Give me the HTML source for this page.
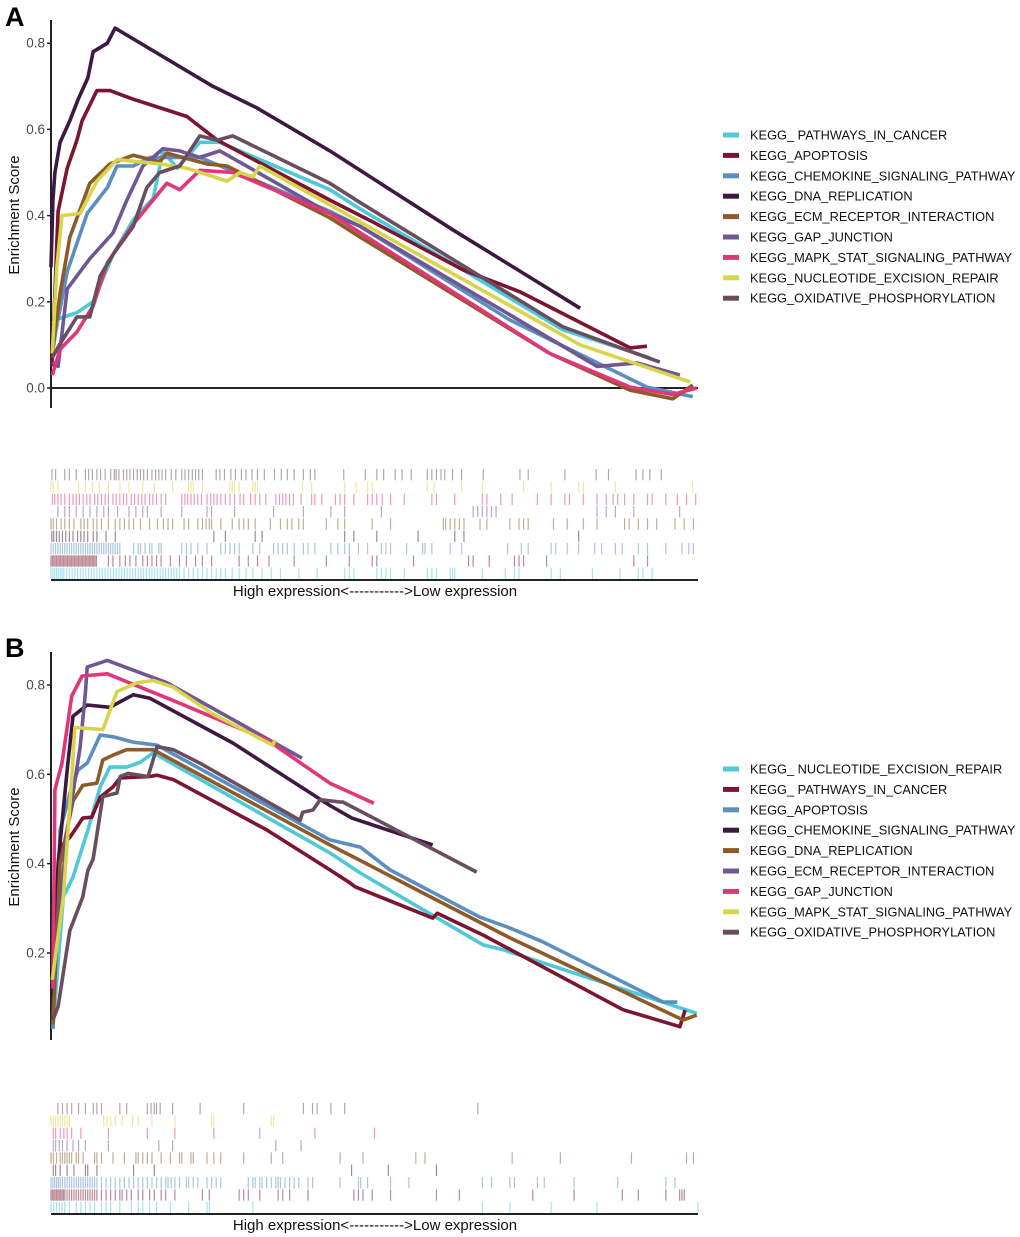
<!DOCTYPE html>
<html><head><meta charset="utf-8">
<style>
html,body{margin:0;padding:0;background:#fff;}
svg{display:block;font-family:"Liberation Sans",Arial,sans-serif;}
</style></head>
<body>
<svg id="fig" width="1020" height="1237" viewBox="0 0 1020 1237"></svg>
<script>
// ---------- data ----------
const namesA = ["KEGG_ PATHWAYS_IN_CANCER","KEGG_APOPTOSIS","KEGG_CHEMOKINE_SIGNALING_PATHWAY","KEGG_DNA_REPLICATION","KEGG_ECM_RECEPTOR_INTERACTION","KEGG_GAP_JUNCTION","KEGG_MAPK_STAT_SIGNALING_PATHWAY","KEGG_NUCLEOTIDE_EXCISION_REPAIR","KEGG_OXIDATIVE_PHOSPHORYLATION"];
const namesB = ["KEGG_ NUCLEOTIDE_EXCISION_REPAIR","KEGG_ PATHWAYS_IN_CANCER","KEGG_APOPTOSIS","KEGG_CHEMOKINE_SIGNALING_PATHWAY","KEGG_DNA_REPLICATION","KEGG_ECM_RECEPTOR_INTERACTION","KEGG_GAP_JUNCTION","KEGG_MAPK_STAT_SIGNALING_PATHWAY","KEGG_OXIDATIVE_PHOSPHORYLATION"];
const palette = ["#4FC8D8","#7B1530","#5A8FC0","#3D1840","#8F5A2A","#6E5792","#E0367A","#D8D44C","#6A4E60"];
const ticksA = [0.0,0.2,0.4,0.6,0.8];
const ticksB = [0.2,0.4,0.6,0.8];
const N_GENES = 1410;

// Panel A curves: rank (% of list) and enrichment score
const A_rank = [
 [0.2,1.1,4.0,6.5,9.6,12.7,15.8,17.3,19.5,23.0,26.1,43.1,47.8,63.7,79.1,92.6],
 [0.15,1.1,2.5,4.0,4.8,7.1,9.1,12.7,17.9,21.0,25.7,43.1,49.8,63.7,72.5,89.5,92.1],
 [0.2,1.1,2.5,5.6,8.7,10.2,12.7,15.3,23.0,43.1,47.8,70.9,92.1,99.2],
 [0.0,0.3,0.6,1.4,2.9,4.2,5.7,6.5,8.7,9.9,25.0,31.8,43.1,62.1,81.8],
 [0.2,1.4,2.9,6.0,9.1,12.7,16.8,17.9,24.1,27.2,43.1,47.8,77.1,89.5,96.1,99.2],
 [0.2,1.1,2.5,6.0,9.6,11.7,14.2,17.3,19.9,23.0,26.1,43.1,47.8,84.4,90.6,97.2],
 [0.2,1.4,4.0,6.5,8.7,12.7,17.9,19.9,23.0,28.1,43.1,47.8,77.1,89.5,96.1,99.8],
 [0.2,0.9,1.7,4.5,7.1,10.2,16.8,21.0,27.2,29.2,31.2,32.3,43.1,47.8,81.8,98.8],
 [0.2,1.1,4.0,6.0,7.6,9.6,12.7,14.8,16.8,19.9,23.0,25.7,28.1,43.1,47.8,79.1,94.1]
];
const A_es = [
 [0.08,0.16,0.175,0.20,0.31,0.39,0.44,0.55,0.51,0.57,0.57,0.46,0.415,0.274,0.135,0.07],
 [0.05,0.41,0.51,0.575,0.62,0.69,0.69,0.67,0.645,0.63,0.575,0.436,0.385,0.274,0.223,0.093,0.097],
 [0.15,0.16,0.27,0.405,0.465,0.515,0.515,0.535,0.535,0.41,0.375,0.158,0.002,-0.02],
 [0.28,0.435,0.50,0.57,0.62,0.67,0.72,0.78,0.80,0.835,0.70,0.65,0.55,0.367,0.185],
 [0.08,0.22,0.35,0.475,0.52,0.54,0.525,0.545,0.52,0.515,0.395,0.35,0.08,-0.005,-0.025,0.007],
 [0.06,0.05,0.23,0.30,0.36,0.435,0.515,0.555,0.55,0.535,0.55,0.405,0.375,0.05,0.058,0.03],
 [0.03,0.09,0.13,0.19,0.29,0.38,0.475,0.46,0.505,0.50,0.405,0.36,0.08,0.002,-0.015,0.0],
 [0.08,0.28,0.40,0.405,0.48,0.53,0.52,0.51,0.48,0.50,0.49,0.515,0.425,0.385,0.10,0.014],
 [0.07,0.095,0.165,0.165,0.26,0.31,0.375,0.465,0.50,0.515,0.585,0.575,0.585,0.475,0.43,0.142,0.06]
];
// Panel B curves
const B_rank = [
 [0.3,1.9,3.4,5.7,7.6,9.1,11.7,13.8,15.8,43.1,47.8,66.8,69.9,99.8],
 [0.3,1.4,2.9,4.0,4.9,6.3,7.6,9.6,10.7,15.3,16.4,18.9,33.4,43.1,46.2,47.0,59.0,59.7,66.8,88.4,97.2,98.0],
 [0.3,1.4,3.2,4.2,5.6,7.6,9.6,12.7,16.4,43.1,47.8,52.4,66.3,70.9,76.0,94.6,96.8],
 [0.3,1.1,2.5,3.4,5.6,9.1,12.7,15.3,28.1,43.1,46.5,59.0],
 [0.3,1.4,3.4,4.9,7.1,8.0,9.6,11.7,15.8,43.1,47.8,56.6,70.9,97.7,99.8],
 [0.3,1.1,2.5,4.5,5.3,5.6,8.7,17.9,38.8],
 [0.3,0.6,1.7,3.2,4.8,8.7,18.9,33.4,43.1,49.9],
 [0.2,1.9,3.2,3.7,8.0,10.2,13.3,15.8,18.9,25.0,34.3,34.6],
 [0.3,1.1,2.9,4.9,5.7,6.5,8.0,10.2,10.7,11.9,15.0,16.4,18.9,23.0,38.5,38.9,40.5,41.6,44.7,45.1,65.8]
];
const B_es = [
 [0.03,0.325,0.37,0.475,0.572,0.616,0.616,0.627,0.648,0.424,0.379,0.218,0.207,0.065],
 [0.06,0.437,0.459,0.482,0.502,0.504,0.549,0.572,0.592,0.595,0.598,0.588,0.475,0.386,0.357,0.348,0.278,0.289,0.24,0.073,0.035,0.072],
 [0.03,0.475,0.572,0.61,0.625,0.688,0.684,0.672,0.665,0.453,0.437,0.386,0.28,0.256,0.225,0.09,0.09],
 [0.10,0.40,0.61,0.73,0.755,0.75,0.778,0.77,0.67,0.53,0.502,0.442],
 [0.04,0.40,0.54,0.575,0.58,0.632,0.643,0.655,0.655,0.442,0.407,0.341,0.234,0.05,0.061],
 [0.13,0.25,0.475,0.66,0.78,0.84,0.855,0.805,0.636],
 [0.12,0.565,0.625,0.775,0.82,0.825,0.765,0.677,0.58,0.535],
 [0.14,0.325,0.59,0.705,0.70,0.785,0.805,0.81,0.795,0.735,0.665,0.677],
 [0.05,0.08,0.25,0.325,0.385,0.41,0.55,0.558,0.595,0.602,0.595,0.662,0.655,0.625,0.497,0.515,0.52,0.543,0.538,0.538,0.381]
];
// Rug hits (gene rank out of N_GENES), indexed by series 0..8
const A_hits = [
 [0,4,8,12,16,20,24,28,34,40,46,52,58,64,70,76,82,88,94,100,106,112,118,124,130,136,142,148,154,160,166,172,178,184,190,196,202,208,214,220,226,232,238,244,250,256,262,268,274,280,290,300,310,320,330,340,350,360,370,380,395,410,425,440,460,480,500,540,580,640,650,660,710,720,730,740,770,820,830,840,870,875,880,940,990,1010,1020,1090,1110,1180,1240,1280,1290,1310],
 [0,3,6,9,12,15,18,21,24,27,30,33,36,39,42,45,48,51,54,57,60,63,66,69,72,75,78,81,84,87,90,93,96,99,125,135,150,162,172,185,200,210,220,230,240,260,280,295,315,330,350,410,430,450,475,530,600,650,700,710,790,910,920,955,1010,1020,1030,1080,1270,1300],
 [0,5,10,15,20,25,30,35,40,45,50,55,60,65,70,75,80,85,90,95,100,105,110,115,120,125,130,135,140,145,150,180,190,195,205,215,220,235,240,285,295,305,320,340,370,380,390,400,410,440,455,485,495,505,515,530,550,560,575,610,625,640,650,670,690,720,730,740,775,810,815,830,870,895,995,1025,1040,1090,1100,1125,1150,1185,1200,1230,1245,1280,1300,1340,1375,1390,1400],
 [2,6,12,18,25,32,40,48,58,65,72,80,92,100,120,140,355,380,445,460,640,660,710,800,880,900,1150],
 [0,5,12,22,30,40,50,65,72,80,92,100,110,125,140,150,160,170,180,195,215,232,245,255,265,290,300,320,330,338,345,350,370,395,410,420,430,445,478,500,515,525,540,550,600,625,640,700,740,855,860,870,880,890,900,935,950,1000,1020,1030,1040,1095,1125,1160,1190,1250,1260,1280,1300,1320,1360,1380,1400],
 [15,30,40,55,70,85,100,115,125,145,170,185,200,210,240,285,340,350,400,485,550,610,640,720,920,930,940,950,960,970,1190,1210,1230,1270,1370],
 [3,8,15,22,30,40,48,55,62,70,78,85,95,102,110,118,125,135,142,150,158,165,175,182,190,198,205,215,222,230,240,250,285,292,298,305,312,320,328,340,348,355,362,370,380,390,400,412,420,435,445,455,468,490,498,505,512,520,528,545,568,575,590,620,630,640,660,690,700,710,722,740,770,830,840,880,940,950,980,1005,1060,1090,1120,1130,1160,1190,1210,1225,1235,1250,1270,1300,1310,1340,1365,1385,1405],
 [0,5,15,60,75,90,105,125,150,170,200,225,265,300,305,310,330,390,395,400,410,440,445,450,548,568,640,665,690,700,820,835,895,940,1030,1090,1150,1160,1230,1398],
 [2,10,30,40,55,75,82,90,100,108,118,130,138,142,148,158,165,172,180,188,195,202,210,220,228,235,242,250,262,272,285,292,300,308,315,322,330,360,368,378,392,402,415,425,438,450,465,487,502,515,530,550,565,575,638,685,710,725,750,765,785,820,830,840,850,858,875,895,942,1022,1040,1120,1188,1215,1275,1290,1305,1330]
];
const B_hits = [
 [0,6,12,18,24,30,40,55,65,75,85,95,110,120,130,150,175,190,200,215,230,260,300,340,345,440,940,1000,1090,1190,1410],
 [0,3,6,9,12,15,18,21,24,27,30,35,40,45,50,55,60,65,70,75,80,85,90,95,100,110,120,130,140,150,155,165,175,190,200,215,225,240,250,270,330,345,410,420,430,455,495,505,520,560,660,670,680,700,740,840,890,1050,1140,1245,1280,1340,1370,1375,1380],
 [0,4,8,12,16,20,25,30,35,40,45,50,55,60,65,70,75,80,85,90,95,100,110,120,130,140,150,160,170,180,190,200,210,220,230,240,250,255,262,270,280,295,300,310,320,340,350,360,370,430,440,445,455,460,470,480,490,495,500,510,520,530,540,560,570,630,670,675,690,740,780,940,960,1000,1010,1060,1075,1140,1235,1340,1360],
 [5,10,20,35,50,75,80,100,180,225,655,735,840],
 [0,5,12,20,25,30,35,40,45,55,60,70,95,100,110,135,160,185,190,200,210,220,240,260,280,285,305,310,340,355,370,420,480,505,630,680,795,815,1005,1110,1265,1385,1400],
 [5,10,18,25,35,48,60,75,125,235,265,490,545],
 [5,10,20,28,35,45,65,125,210,270,355,455,575,705],
 [0,5,10,15,20,25,30,35,40,115,122,130,140,155,178,190,220,270,350,355,480,485],
 [15,25,35,45,60,75,92,100,110,150,165,210,218,225,230,238,265,325,420,550,570,580,610,640,930]
];

// ---------- drawing ----------
const NS = "http://www.w3.org/2000/svg";
const svg = document.getElementById("fig");
function mk(tag, attrs, parent){ const e=document.createElementNS(NS,tag); for(const k in attrs) e.setAttribute(k,attrs[k]); (parent||svg).appendChild(e); return e; }
const X0=51, X1=698;
const xScale = r => X0 + r/100*(X1-X0);

function panel(cfg){
  const g = mk("g",{});
  
  
  const y = v => cfg.y0 - v*cfg.pxPerUnit;
  const lab = mk("text",{x:5,y:cfg.labelY,"font-size":27,"font-weight":"bold",fill:"#000"},g);
  lab.textContent = cfg.label;
  
  
  const ax = mk("line",{x1:X0,y1:cfg.axTop,x2:X0,y2:cfg.axBottom,stroke:"#222","stroke-width":2},g);
  
  
  cfg.ticks.forEach(t=>{
    const tk = mk("line",{x1:X0-4,y1:y(t),x2:X0,y2:y(t),stroke:"#222","stroke-width":1.5},g);
    
    
    const tl = mk("text",{x:X0-6,y:y(t)+4.5,"font-size":13.5,"text-anchor":"end",fill:"#4a4a4a"},g);
    tl.textContent = t.toFixed(1);
    
    
  });
  if(cfg.zeroLine){
    const zl = mk("line",{x1:X0,y1:y(0),x2:X1,y2:y(0),stroke:"#222","stroke-width":2},g);
    
    
  }
  const yt = mk("text",{x:0,y:0,"font-size":15,"text-anchor":"middle",fill:"#111",transform:`translate(19,${cfg.titleY}) rotate(-90)`},g);
  yt.textContent = "Enrichment Score";
  
  
  cfg.ranks.forEach((rk,i)=>{
    const d = rk.map((r,j)=>(j?"L":"M")+xScale(r).toFixed(1)+","+y(cfg.es[i][j]).toFixed(1)).join(" ");
    const p = mk("path",{d:d,fill:"none",stroke:palette[i],"stroke-width":3.6,"stroke-linejoin":"round"},g);
    
    
  });
  // rug: top row = last series
  const rowH = (cfg.rugBottom-cfg.rugTop)/9;
  for(let ri=0; ri<9; ri++){
    const si = 8-ri;
    const col = palette[si];
    cfg.hits[si].forEach(h=>{
      const xx = xScale(h/N_GENES*100);
      const l = mk("line",{x1:xx,y1:cfg.rugTop+ri*rowH,x2:xx,y2:cfg.rugTop+(ri+1)*rowH-1,stroke:col,"stroke-width":1.2,opacity:0.5},g);
      
      
    });
  }
  const rl = mk("line",{x1:X0,y1:cfg.rugBottom,x2:X1,y2:cfg.rugBottom,stroke:"#222","stroke-width":2},g);
  
  
  const rt = mk("text",{x:375,y:cfg.rugBottom+16,"font-size":15,"text-anchor":"middle",fill:"#111"},g);
  rt.textContent = "High expression<----------->Low expression";
  
  
  cfg.names.forEach((n,i)=>{
    const ly = cfg.legY + i*20.4;
    const k = mk("rect",{x:723,y:ly-2.5,width:16,height:5,fill:palette[i]},g);
    
    
    const t = mk("text",{x:750,y:ly+4.5,"font-size":12.8,fill:"#111"},g);
    t.textContent = n;
    
    
  });
}

panel({key:"a",label:"A",labelY:26,y0:388,pxPerUnit:431,axTop:20,axBottom:408,ticks:ticksA,zeroLine:true,titleY:215,
  ranks:A_rank,es:A_es,hits:A_hits,rugTop:469,rugBottom:580,names:namesA,legY:135});
panel({key:"b",label:"B",labelY:657,y0:1042.3,pxPerUnit:446.7,axTop:652,axBottom:1040,ticks:ticksB,zeroLine:false,titleY:847,
  ranks:B_rank,es:B_es,hits:B_hits,rugTop:1103,rugBottom:1214,names:namesB,legY:769});
</script>
</body></html>
